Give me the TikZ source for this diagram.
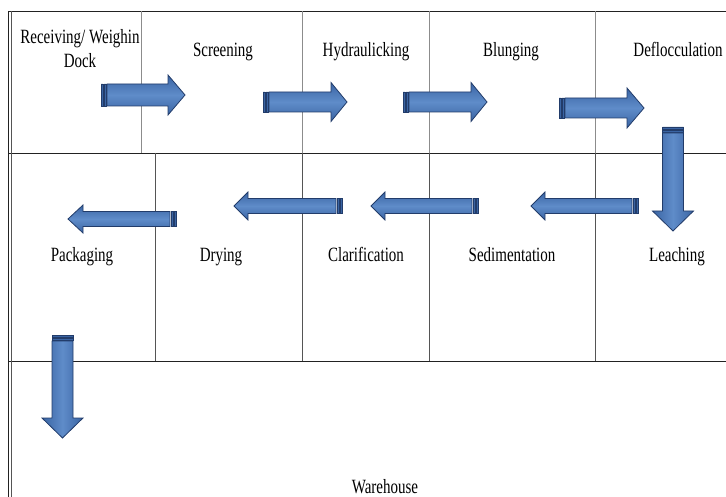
\documentclass[tikz,border=0pt]{standalone}
\usepackage{fontspec}
\setmainfont{Liberation Serif}
\usepackage{graphicx}
\usetikzlibrary{calc}
\definecolor{arrMid}{HTML}{5F8CC9}
\definecolor{arrEdge}{HTML}{3A64A3}
\definecolor{arrDark}{HTML}{223C6A}
\definecolor{gridH}{HTML}{222222}
\definecolor{gridV}{HTML}{8C8C8C}
\definecolor{gridVdark}{HTML}{555555}

\newcommand\myStretch[1]{\scalebox{1}[1.35]{#1}}

\tikzset{
  lbl/.style={font=\fontsize{15}{24}\selectfont, inner sep=0pt, anchor=base},
  hline/.style={draw=gridH, line width=0.9pt},
  vline/.style={draw=gridV, line width=0.8pt},
  vlinedark/.style={draw=gridVdark, line width=0.8pt},
  arrbar/.style={fill=arrEdge, draw=arrDark, line width=0.4pt},
  arrbody/.style={draw=arrDark, line width=0.8pt, line join=miter},
  hshade/.style={top color=arrEdge, bottom color=arrEdge, middle color=arrMid},
  vshade/.style={left color=arrEdge, right color=arrEdge, middle color=arrMid},
}

% #1 tail coordinate, #2 tip coordinate, #3 body half width, #4 head half width, #5 head length
\newcommand\myHarrow[5]{%
  \path[arrbar] let \p1=(#1), \p2=(#2), \n1={sign(\x2-\x1)} in
    ({\x1},{\y1-#3pt}) rectangle ({\x1+2pt*(\n1)},{\y1+#3pt})
    ({\x1+3pt*(\n1)},{\y1-#3pt}) rectangle ({\x1+5pt*(\n1)},{\y1+#3pt});
  \path[arrbody,hshade] let \p1=(#1), \p2=(#2), \n1={sign(\x2-\x1)} in
    ({\x1+6pt*(\n1)},{\y1-#3pt}) -- ({\x2-#5pt*(\n1)},{\y1-#3pt})
    -- ({\x2-#5pt*(\n1)},{\y1-#4pt}) -- (\x2,\y1)
    -- ({\x2-#5pt*(\n1)},{\y1+#4pt}) -- ({\x2-#5pt*(\n1)},{\y1+#3pt})
    -- ({\x1+6pt*(\n1)},{\y1+#3pt}) -- cycle;
}
\newcommand\myVarrow[5]{%
  \path[arrbar] let \p1=(#1), \p2=(#2), \n1={sign(\y2-\y1)} in
    ({\x1-#3pt},{\y1}) rectangle ({\x1+#3pt},{\y1+2pt*(\n1)})
    ({\x1-#3pt},{\y1+3pt*(\n1)}) rectangle ({\x1+#3pt},{\y1+5pt*(\n1)});
  \path[arrbody,vshade] let \p1=(#1), \p2=(#2), \n1={sign(\y2-\y1)} in
    ({\x1-#3pt},{\y1+6pt*(\n1)}) -- ({\x1-#3pt},{\y2-#5pt*(\n1)})
    -- ({\x1-#4pt},{\y2-#5pt*(\n1)}) -- (\x1,\y2)
    -- ({\x1+#4pt},{\y2-#5pt*(\n1)}) -- ({\x1+#3pt},{\y2-#5pt*(\n1)})
    -- ({\x1+#3pt},{\y1+6pt*(\n1)}) -- cycle;
}

\begin{document}
\begin{tikzpicture}[x=1pt,y=-1pt]
\useasboundingbox (0,0) rectangle (726,497);

% grid
\draw[hline] (8,11) -- (726,11);
\draw[hline] (8,153) -- (726,153);
\draw[hline] (8,361) -- (726,361);
\draw[gridH, line width=0.8pt] (8,11) -- (8,497);
\draw[gridVdark, line width=0.7pt] (11,11) -- (11,497);
\foreach \xx in {141,302,429,595} \draw[vline] (\xx,11) -- (\xx,153);
\foreach \xx in {155,302,429,595} \draw[vlinedark] (\xx,153) -- (\xx,361);

% labels
\node[lbl, anchor=center, align=center] (recv) at (80,49) {\myStretch{Receiving/ Weighin}\\\myStretch{Dock}};
\node[lbl] (scr) at (223,57) {\myStretch{Screening}};
\node[lbl] (hyd) at (366,57) {\myStretch{Hydraulicking}};
\node[lbl] (blu) at (511,57) {\myStretch{Blunging}};
\node[lbl] (def) at (678,57) {\myStretch{Deflocculation}};
\node[lbl] (pack) at (82,262) {\myStretch{Packaging}};
\node[lbl] (dry) at (221,262) {\myStretch{Drying}};
\node[lbl] (cla) at (366,262) {\myStretch{Clarification}};
\node[lbl] (sed) at (512,262) {\myStretch{Sedimentation}};
\node[lbl] (lea) at (677,262) {\myStretch{Leaching}};
\node[lbl] (ware) at (385,493) {\myStretch{Warehouse}};

% arrow end points
\coordinate (a1t) at (101,95);   \coordinate (a1h) at (185,95);
\coordinate (a2t) at (263,102);  \coordinate (a2h) at (347,102);
\coordinate (a3t) at (403,102);  \coordinate (a3h) at (487,102);
\coordinate (a4t) at (559,108);  \coordinate (a4h) at (644,108);
\coordinate (a5t) at (673,127);  \coordinate (a5h) at (673,231);
\coordinate (a6t) at (638,206);  \coordinate (a6h) at (531,206);
\coordinate (a7t) at (478,206);  \coordinate (a7h) at (371,206);
\coordinate (a8t) at (342,206);  \coordinate (a8h) at (234,206);
\coordinate (a9t) at (176,219);  \coordinate (a9h) at (68,219);
\coordinate (a10t) at (62.5,335); \coordinate (a10h) at (62.5,438);

% arrows
\myHarrow{a1t}{a1h}{11}{20}{17}
\myHarrow{a2t}{a2h}{10}{19.5}{16}
\myHarrow{a3t}{a3h}{10}{19.5}{16}
\myHarrow{a4t}{a4h}{10}{20}{17}
\myVarrow{a5t}{a5h}{10.5}{20.5}{20}
\myHarrow{a6t}{a6h}{7.5}{14}{14}
\myHarrow{a7t}{a7h}{7.5}{14}{14}
\myHarrow{a8t}{a8h}{7.5}{14}{14}
\myHarrow{a9t}{a9h}{7.5}{14}{15}
\myVarrow{a10t}{a10h}{10.5}{20.5}{20}
\end{tikzpicture}
\end{document}
